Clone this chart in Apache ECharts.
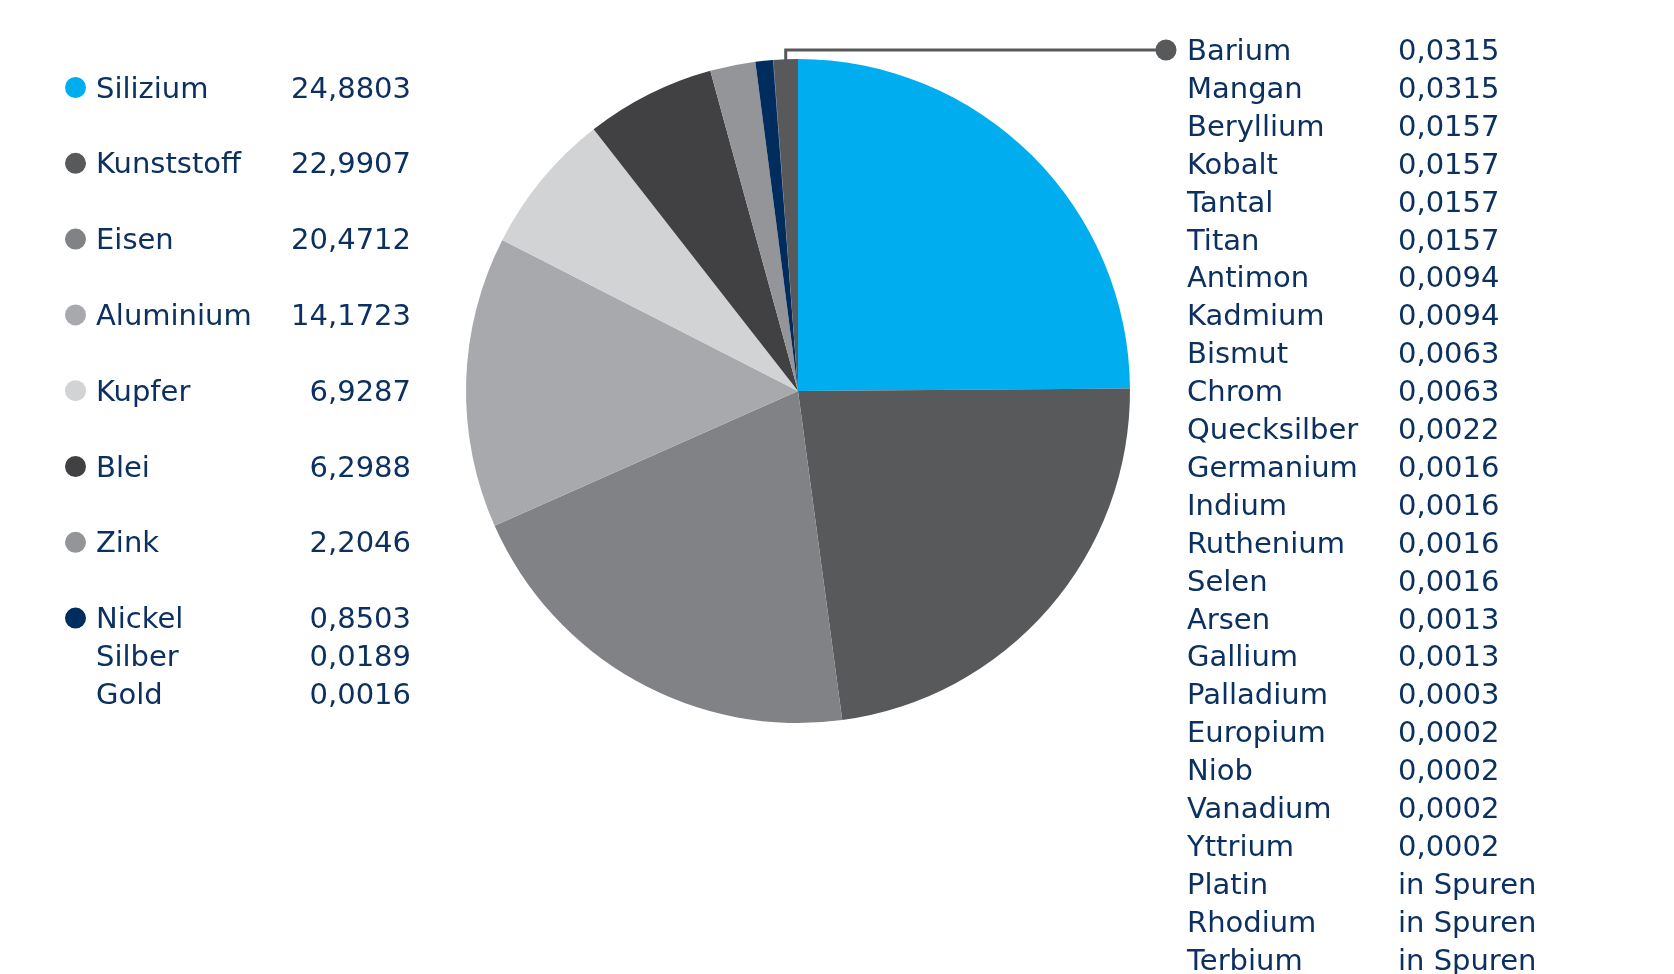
<!DOCTYPE html>
<html>
<head>
<meta charset="utf-8">
<title>Rohstoffe im Smartphone</title>
<script src="https://cdn.jsdelivr.net/npm/echarts@6/dist/echarts.min.js"></script>
<style>
  html, body { margin: 0; padding: 0; background: #fff; }
  #chart { width: 1674px; height: 974px; }
</style>
</head>
<body>
<div id="chart"></div>
<script>
// Hauptbestandteile (links), Anteil in %
const mainNames = ['Silizium', 'Kunststoff', 'Eisen', 'Aluminium', 'Kupfer', 'Blei', 'Zink', 'Nickel', 'Silber', 'Gold']
const mainValues = [24.8803, 22.9907, 20.4712, 14.1723, 6.9287, 6.2988, 2.2046, 0.8503, 0.0189, 0.0016]
const mainColors = ['#00aeef', '#58595b', '#808285', '#a7a9ac', '#d1d3d4', '#414042', '#939598', '#002d5e', '#002d5e', '#002d5e']
const dotCount = 8 // Silber und Gold ohne Punkt

// kleiner Sektor für die Spurenelemente (rechts), aus dem Bild geschätzt
const restName = 'Sonstige'
const restShare = 1.18
const restColor = '#58595b'

// Spurenelemente (rechts), null = "in Spuren"
const traceNames = ['Barium', 'Mangan', 'Beryllium', 'Kobalt', 'Tantal', 'Titan', 'Antimon', 'Kadmium', 'Bismut', 'Chrom',
  'Quecksilber', 'Germanium', 'Indium', 'Ruthenium', 'Selen', 'Arsen', 'Gallium', 'Palladium', 'Europium', 'Niob',
  'Vanadium', 'Yttrium', 'Platin', 'Rhodium', 'Terbium']
const traceValues = [0.0315, 0.0315, 0.0157, 0.0157, 0.0157, 0.0157, 0.0094, 0.0094, 0.0063, 0.0063,
  0.0022, 0.0016, 0.0016, 0.0016, 0.0016, 0.0013, 0.0013, 0.0003, 0.0002, 0.0002,
  0.0002, 0.0002, null, null, null]

const textColor = '#0c3161'
const font = '29px "DejaVu Sans"'

function fmt(v) {
  return v == null ? 'in Spuren' : v.toFixed(4).replace('.', ',')
}

function leftRowY(i) {
  return i < dotCount ? 87.5 + i * 75.8 : 87.5 + (dotCount - 1) * 75.8 + (i - dotCount + 1) * 37.9
}

function textEl(x, y, text, align) {
  // Schrift sitzt im Original etwas tiefer als die Punktmitte
  return {
    type: 'text', x: x, y: y + 2.5, silent: true,
    style: {
      text: text, font: font, fill: textColor,
      align: align, verticalAlign: 'middle',
      textAlign: align, textVerticalAlign: 'middle'
    }
  }
}

const graphics = []
mainNames.forEach((name, i) => {
  const y = leftRowY(i)
  if (i < dotCount) {
    graphics.push({ type: 'circle', silent: true, shape: { cx: 75.5, cy: y, r: 10.5 }, style: { fill: mainColors[i] } })
  }
  graphics.push(textEl(96, y, name, 'left'))
  graphics.push(textEl(411, y, fmt(mainValues[i]), 'right'))
})
traceNames.forEach((name, i) => {
  const y = 50 + i * 37.9
  graphics.push(textEl(1187, y, name, 'left'))
  graphics.push(textEl(1398, y, fmt(traceValues[i]), 'left'))
})

const pieData = mainNames.map((name, i) => ({
  name: name,
  value: mainValues[i],
  itemStyle: { color: mainColors[i] }
}))
pieData.push({
  name: restName,
  value: restShare,
  itemStyle: { color: restColor },
  label: {
    show: true,
    position: 'outside',
    formatter: '{d|}',
    rich: { d: { width: 21, height: 21, borderRadius: 10.5, backgroundColor: restColor } }
  },
  labelLine: { show: true, length: 10, length2: 10, smooth: false, lineStyle: { color: restColor, width: 3 } }
})
const restIndex = pieData.length - 1

const chart = echarts.init(document.getElementById('chart'))
chart.setOption({
  animation: false,
  graphic: { elements: graphics },
  series: [{
    type: 'pie',
    center: [798, 391],
    radius: 332,
    startAngle: 90,
    clockwise: true,
    avoidLabelOverlap: false,
    silent: true,
    label: { show: false },
    labelLine: { show: false },
    emphasis: { disabled: true },
    itemStyle: { borderWidth: 0 },
    data: pieData,
    labelLayout: function (params) {
      if (params.dataIndex !== restIndex) return {}
      const edgeX = params.rect.x + params.rect.width / 2
      const edgeY = params.rect.y
      return {
        x: 1166, y: 50, align: 'center', verticalAlign: 'middle',
        labelLinePoints: [[edgeX, edgeY + 2], [edgeX, 50], [1160, 50]]
      }
    }
  }]
})

window.addEventListener('resize', () => chart.resize())
</script>
</body>
</html>
